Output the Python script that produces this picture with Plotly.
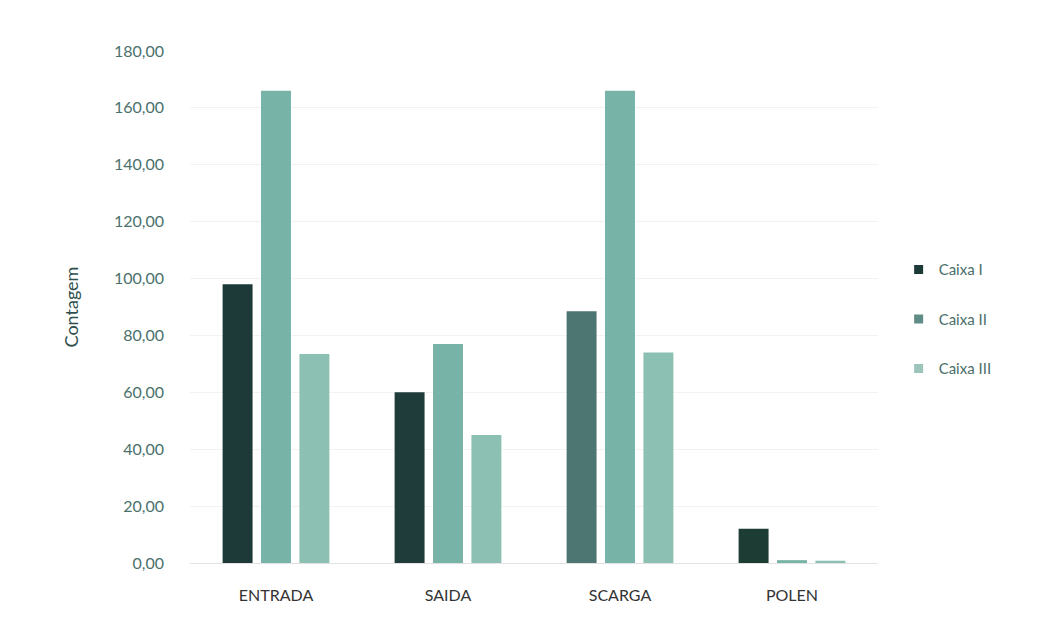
import plotly.graph_objects as go

categories = ["ENTRADA", "SAIDA", "SCARGA", "POLEN"]
series_names = ["Caixa I", "Caixa II", "Caixa III"]
caixa_1 = [98.0, 60.0, 88.5, 12.0]
caixa_2 = [166.0, 77.0, 166.0, 1.0]
caixa_3 = [73.5, 45.0, 74.0, 0.8]
y_ticks = [0, 20, 40, 60, 80, 100, 120, 140, 160, 180]

values = [caixa_1, caixa_2, caixa_3]
colors = [
    ["#1d3a39", "#1f3b3a", "#4d7672", "#1c3c34"],
    "#78b3a7",
    "#8cc0b3",
]
legend_colors = ["#1d3a39", "#5f8c86", "#9cc4ba"]

fig = go.Figure()
for i, (name, vals) in enumerate(zip(series_names, values)):
    fig.add_trace(go.Bar(
        name=name, x=categories, y=vals,
        marker=dict(color=colors[i], line=dict(width=0)),
        legendgroup=name, showlegend=False,
    ))
for i, name in enumerate(series_names):
    # legend-only proxy with the legend swatch colour
    fig.add_trace(go.Scatter(
        name=name, x=[None], y=[None], mode="markers",
        marker=dict(color=legend_colors[i], symbol="square", size=9),
        legendgroup=name, showlegend=True,
    ))

fig.update_layout(
    width=1040, height=617,
    margin=dict(l=190, r=162, t=51, b=54),
    paper_bgcolor="white", plot_bgcolor="white",
    barmode="group", bargap=0.33, bargroupgap=0.22,
    separators=",.",
    font=dict(family="Lato, Open Sans, sans-serif", color="#3f6762"),
    showlegend=True,
    legend=dict(
        x=1.03, y=0.605, xanchor="left", yanchor="top",
        font=dict(size=15, color="#4a6f6a"),
        traceorder="grouped", tracegroupgap=27,
        itemwidth=30, bgcolor="rgba(0,0,0,0)",
    ),
    xaxis=dict(
        showgrid=False, showline=True, linecolor="#e2e2e2", linewidth=1,
        ticks="", tickfont=dict(size=16, color="#333333"),
        ticklabelstandoff=18,
    ),
    yaxis=dict(
        range=[0, 180], tickvals=y_ticks, tickformat=".2f",
        showgrid=True, gridcolor="#f2f2f2", gridwidth=1,
        zeroline=False, showline=False, ticks="",
        tickfont=dict(size=16, color="#4a716c"),
        ticklabelstandoff=25,
        title=dict(text="Contagem", font=dict(size=18, color="#2f4f4c"), standoff=30),
    ),
)

fig.write_html("out.html")
